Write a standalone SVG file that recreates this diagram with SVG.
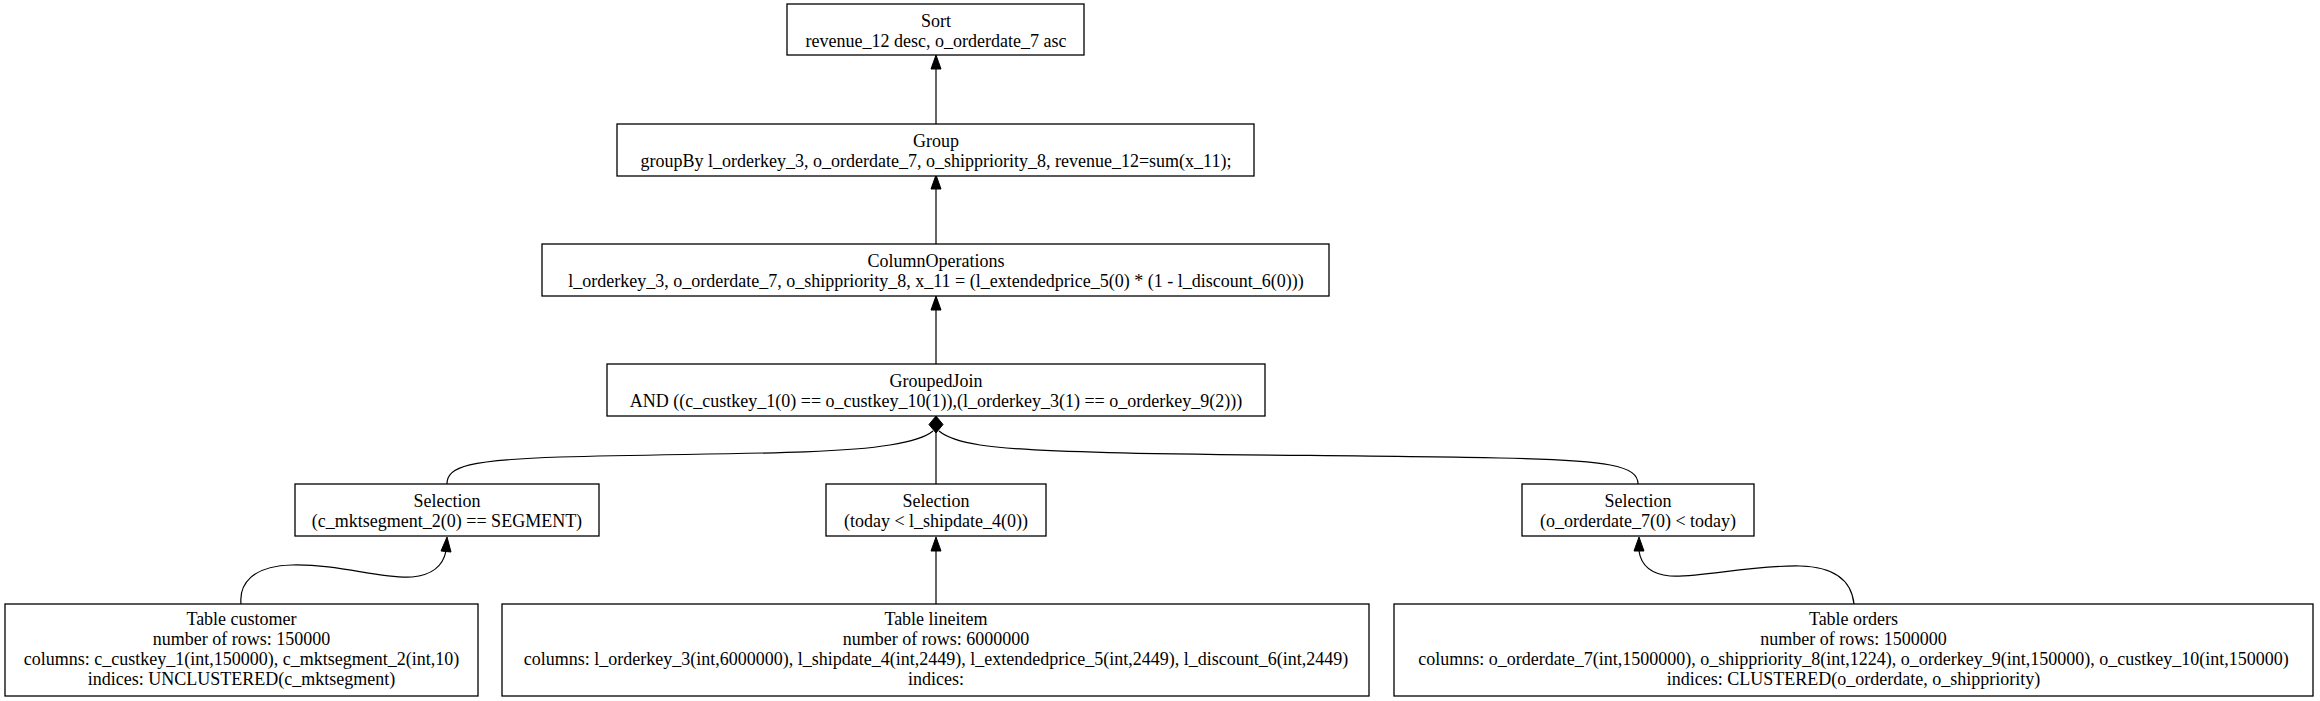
<svg xmlns="http://www.w3.org/2000/svg" width="2320" height="701" viewBox="0 0 2320 701">
<style>
.box{fill:#fff;stroke:#000;stroke-width:1.3}
text{font-family:"Liberation Serif","Times New Roman",serif;font-size:18px;fill:#000;text-anchor:middle}
.e{fill:none;stroke:#000;stroke-width:1.2}
.ah{fill:#000;stroke:#000;stroke-width:1}
</style>
<rect width="2320" height="701" fill="#fff"/>
<g id="connectors">
<path class="e" d="M936,124 L936,69"/>
<polygon class="ah" points="936,55 931,69 941,69"/>
<path class="e" d="M936,244 L936,189"/>
<polygon class="ah" points="936,175 931,189 941,189"/>
<path class="e" d="M936,364 L936,310"/>
<polygon class="ah" points="936,296 931,310 941,310"/>
<path class="e" d="M936,484 L936,433"/>
<path class="e" d="M447,484 C447,466 470,460 560,457 C700,453 830,455 890,445 C915,441 927,436 933,431"/>
<path class="e" d="M1638,484 C1638,466 1610,460 1500,458 C1300,454 1050,456 980,445 C955,441 945,436 939,431"/>
<polygon class="ah" points="936,416 929,424.5 936,433 943,424.5"/>
<path class="e" d="M241,604 C239,584 252,566 292,565 C340,564 380,579 412,577 C433,575 443,566 446,551"/>
<polygon class="ah" points="447,537 441,551 451,552"/>
<path class="e" d="M936,604 L936,551"/>
<polygon class="ah" points="936,537 931,551 941,551"/>
<path class="e" d="M1854,604 C1852,585 1840,567 1800,566 C1750,565 1700,578 1670,576 C1650,574 1641,565 1639,551"/>
<polygon class="ah" points="1639,537 1634,551 1644,551"/>
</g>
<g id="sort">
<rect class="box" x="787" y="4" width="297" height="51"/>
<text x="936" y="26.5">Sort</text>
<text x="936" y="46.5">revenue_12 desc, o_orderdate_7 asc</text>
</g>
<g id="group">
<rect class="box" x="617" y="124" width="637" height="52"/>
<text x="936" y="147">Group</text>
<text x="936" y="167">groupBy l_orderkey_3, o_orderdate_7, o_shippriority_8, revenue_12=sum(x_11);</text>
</g>
<g id="columnoperations">
<rect class="box" x="542" y="244" width="787" height="52"/>
<text x="936" y="267">ColumnOperations</text>
<text x="936" y="287">l_orderkey_3, o_orderdate_7, o_shippriority_8, x_11 = (l_extendedprice_5(0) * (1 - l_discount_6(0)))</text>
</g>
<g id="groupedjoin">
<rect class="box" x="607" y="364" width="658" height="52"/>
<text x="936" y="387">GroupedJoin</text>
<text x="936" y="407">AND ((c_custkey_1(0) == o_custkey_10(1)),(l_orderkey_3(1) == o_orderkey_9(2)))</text>
</g>
<g id="selection_customer">
<rect class="box" x="295" y="484" width="304" height="52"/>
<text x="447" y="507">Selection</text>
<text x="447" y="527">(c_mktsegment_2(0) == SEGMENT)</text>
</g>
<g id="selection_lineitem">
<rect class="box" x="826" y="484" width="220" height="52"/>
<text x="936" y="507">Selection</text>
<text x="936" y="527">(today &lt; l_shipdate_4(0))</text>
</g>
<g id="selection_orders">
<rect class="box" x="1522" y="484" width="232" height="52"/>
<text x="1638" y="507">Selection</text>
<text x="1638" y="527">(o_orderdate_7(0) &lt; today)</text>
</g>
<g id="table_customer">
<rect class="box" x="5" y="604" width="473" height="92"/>
<text x="241.5" y="625">Table customer</text>
<text x="241.5" y="645">number of rows: 150000</text>
<text x="241.5" y="665">columns: c_custkey_1(int,150000), c_mktsegment_2(int,10)</text>
<text x="241.5" y="685">indices: UNCLUSTERED(c_mktsegment)</text>
</g>
<g id="table_lineitem">
<rect class="box" x="502" y="604" width="867" height="92"/>
<text x="936" y="625">Table lineitem</text>
<text x="936" y="645">number of rows: 6000000</text>
<text x="936" y="665">columns: l_orderkey_3(int,6000000), l_shipdate_4(int,2449), l_extendedprice_5(int,2449), l_discount_6(int,2449)</text>
<text x="936" y="685">indices:</text>
</g>
<g id="table_orders">
<rect class="box" x="1394" y="604" width="919" height="92"/>
<text x="1853.5" y="625">Table orders</text>
<text x="1853.5" y="645">number of rows: 1500000</text>
<text x="1853.5" y="665">columns: o_orderdate_7(int,1500000), o_shippriority_8(int,1224), o_orderkey_9(int,150000), o_custkey_10(int,150000)</text>
<text x="1853.5" y="685">indices: CLUSTERED(o_orderdate, o_shippriority)</text>
</g>
</svg>
